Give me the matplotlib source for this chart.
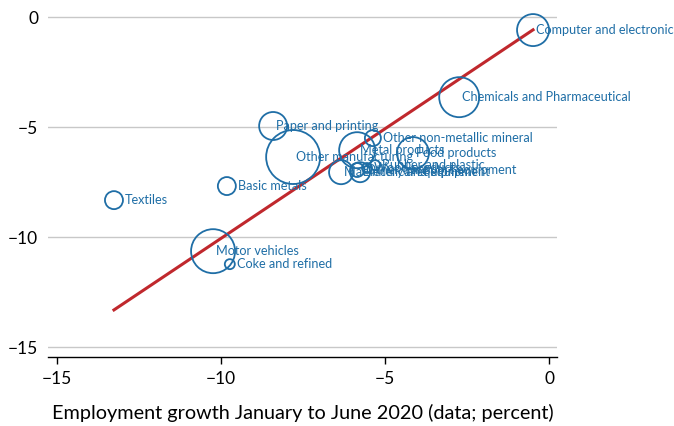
import matplotlib
matplotlib.use("Agg")
import matplotlib.pyplot as plt
import numpy as np

plt.rcParams['font.family'] = ['Lato', 'DejaVu Sans']

sectors = ["Computer and electronic", "Chemicals and Pharmaceutical", "Paper and printing",
           "Other manufacturing", "Basic metals", "Textiles", "Motor vehicles",
           "Coke and refined", "Metal products", "Other non-metallic mineral",
           "Food products", "Rubber and plastic", "Wood products",
           "Machinery and equipment", "Electrical equipment", "Other transport equipment"]
data_growth = [-0.49, -2.74, -8.41, -7.80, -9.82, -13.26, -10.24,
               -9.73, -5.85, -5.37, -4.15, -5.30, -5.55, -6.34, -5.76, -5.85]
model_growth = [-0.59, -3.64, -4.95, -6.36, -7.68, -8.32, -10.64,
                -11.23, -6.05, -5.50, -6.18, -6.73, -6.86, -7.05, -7.05, -6.95]
weight = [16, 20, 14, 27, 9, 9, 22, 5, 18, 8, 16, 5, 5, 12, 10, 7]  # bubble radius (px)

fit_slope = 0.997
fit_intercept = -0.09

blue = "#1f6ea6"
red = "#c0282d"

fig = plt.figure(figsize=(6.74, 4.26), dpi=100)
ax = fig.add_axes([48/674, 1-357/426, 509/674, 355.3/426])

ax.set_xlim(-15.27, 0.24)
ax.set_ylim(-15.45, 0.7)

for y in [0, -5, -10, -15]:
    ax.axhline(y, color="#c8c8c8", lw=1.0, zorder=0)

sizes = [(2 * r * 0.72) ** 2 for r in weight]
ax.scatter(data_growth, model_growth, s=sizes, facecolors="none",
           edgecolors=blue, linewidths=1.3, zorder=3)

xs = np.array([min(data_growth), max(data_growth)])
ax.plot(xs, fit_slope * xs + fit_intercept, color=red, lw=2.2, zorder=2)

for name, x, y, r in zip(sectors, data_growth, model_growth, weight):
    off = r + 2 if r < 10 else 3
    ax.annotate(name, (x, y), xytext=(off * 0.72, 0), textcoords="offset points",
                ha="left", va="center", fontsize=9.1, color=blue, zorder=4)

for s in ["top", "right", "left"]:
    ax.spines[s].set_visible(False)
ax.spines["bottom"].set_color("black")
ax.spines["bottom"].set_linewidth(1.0)

ax.set_xticks([-15, -10, -5, 0])
ax.set_xticklabels(["\u221215", "\u221210", "\u22125", "0"])
ax.set_yticks([0, -5, -10, -15])
ax.set_yticklabels(["0", "\u22125", "\u221210", "\u221215"])
ax.tick_params(axis="y", length=0, pad=7, labelsize=12.5)
ax.tick_params(axis="x", length=5, width=1, pad=5, labelsize=12.5, direction="out")

ax.set_xlabel("Employment growth January to June 2020 (data; percent)", fontsize=14.3, labelpad=12)

fig.savefig("out.png", dpi=100)
